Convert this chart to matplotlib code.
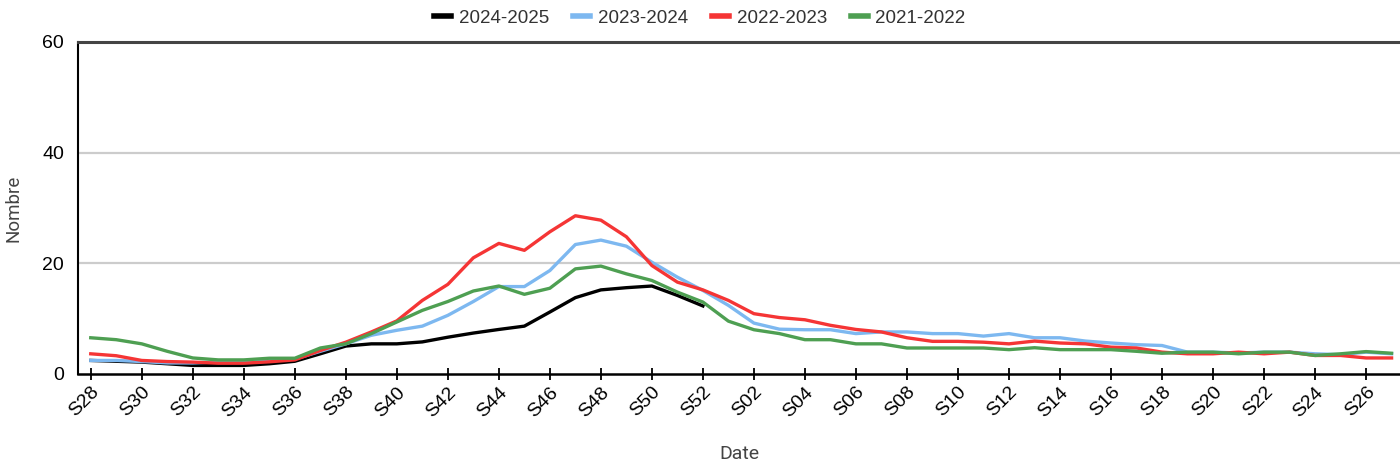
import matplotlib.pyplot as plt

plt.rcParams['font.family'] = ['Liberation Sans', 'DejaVu Sans']

# semaines S28 -> S52 puis S01 -> S27
weeks = ["S%02d" % w for w in range(28, 53)] + ["S%02d" % w for w in range(1, 28)]

s2024 = [2.45, 2.3, 2.15, 1.85, 1.55, 1.55, 1.55, 1.85, 2.3, 3.65, 5.05, 5.45, 5.45,
         5.8, 6.65, 7.4, 8.05, 8.65, 11.2, 13.8, 15.2, 15.6, 15.9, 14.2, 12.3]

s2023 = [2.45, 2.45, 2.25, 2.0, 2.0, 2.2, 2.25, 2.45, 2.7, 4.1, 5.45, 7.0, 7.9,
         8.65, 10.6, 13.1, 15.8, 15.8, 18.7, 23.4, 24.2, 23.1, 20.2, 17.5, 15.1,
         12.4, 9.2, 8.1, 8.0, 8.0, 7.3, 7.6, 7.6, 7.3, 7.3, 6.85, 7.3, 6.55, 6.55,
         5.95, 5.6, 5.3, 5.15, 3.95, 3.95, 3.8, 3.95, 3.95, 3.65, 3.5, 3.95, 3.65]

s2022 = [3.65, 3.3, 2.45, 2.25, 2.15, 1.95, 1.95, 2.2, 2.55, 4.25, 5.75, 7.6, 9.6,
         13.3, 16.2, 21.0, 23.6, 22.35, 25.7, 28.6, 27.8, 24.8, 19.6, 16.6, 15.2,
         13.3, 10.9, 10.2, 9.8, 8.8, 8.05, 7.6, 6.55, 5.9, 5.9, 5.75, 5.45, 5.95, 5.6,
         5.45, 4.85, 4.7, 3.95, 3.65, 3.65, 3.95, 3.65, 3.95, 3.35, 3.35, 2.9, 2.9]

s2021 = [6.55, 6.2, 5.45, 4.1, 2.9, 2.55, 2.55, 2.85, 2.85, 4.7, 5.45, 7.3, 9.4,
         11.5, 13.1, 15.0, 15.9, 14.4, 15.5, 19.0, 19.5, 18.1, 16.9, 14.8, 13.0,
         9.55, 8.0, 7.3, 6.2, 6.2, 5.45, 5.45, 4.7, 4.7, 4.7, 4.7, 4.4, 4.75, 4.4,
         4.4, 4.4, 4.1, 3.75, 3.95, 3.95, 3.65, 3.95, 3.95, 3.35, 3.65, 4.05, 3.75]

series = [("2024-2025", s2024, "#000000"),
          ("2023-2024", s2023, "#7db8f0"),
          ("2022-2023", s2022, "#f53535"),
          ("2021-2022", s2021, "#4e9f52")]

fig = plt.figure(figsize=(14, 4.68), dpi=100)
ax = fig.add_axes([78 / 1400, 1 - 374 / 468, 1 - 78 / 1400, (374 - 42) / 468])

for name, vals, col in series:
    ax.plot(range(len(vals)), vals, color=col, linewidth=2.4, label=name,
            solid_joinstyle='round')

ax.set_xlim(-0.5, 51.33)
ax.set_ylim(0, 60)
ax.set_yticks([0, 20, 40, 60])
ax.set_xticks(range(0, len(weeks), 2))
ax.set_xticklabels(weeks[::2], rotation=45, ha='right', rotation_mode='anchor')
ax.tick_params(axis='x', direction='inout', length=8, width=1.3, labelsize=14,
               pad=3, colors='black')
ax.tick_params(axis='y', length=0, labelsize=14, pad=10)

for y in (20, 40):
    ax.axhline(y, color='#cccccc', linewidth=1.6, zorder=0)

ax.spines['right'].set_visible(False)
ax.spines['left'].set_linewidth(1.5)
ax.spines['bottom'].set_linewidth(1.8)
ax.spines['top'].set_linewidth(2.2)
ax.spines['top'].set_color('#444444')

ax.set_xlabel("Date", fontsize=14, color='#444444', family='Roboto', labelpad=18)
ax.set_ylabel("Nombre", fontsize=13.5, color='#444444', family='Roboto', labelpad=14)

leg = fig.legend(loc='center', bbox_to_anchor=(0.5, 1 - 18 / 468), ncol=4, frameon=False,
                 fontsize=13.5, handlelength=0.9, handletextpad=0.4, columnspacing=1.3)
for t in leg.get_texts():
    t.set_color('#333333')
for h in leg.legend_handles:
    h.set_linewidth(4)

fig.savefig('out.png', dpi=100)
